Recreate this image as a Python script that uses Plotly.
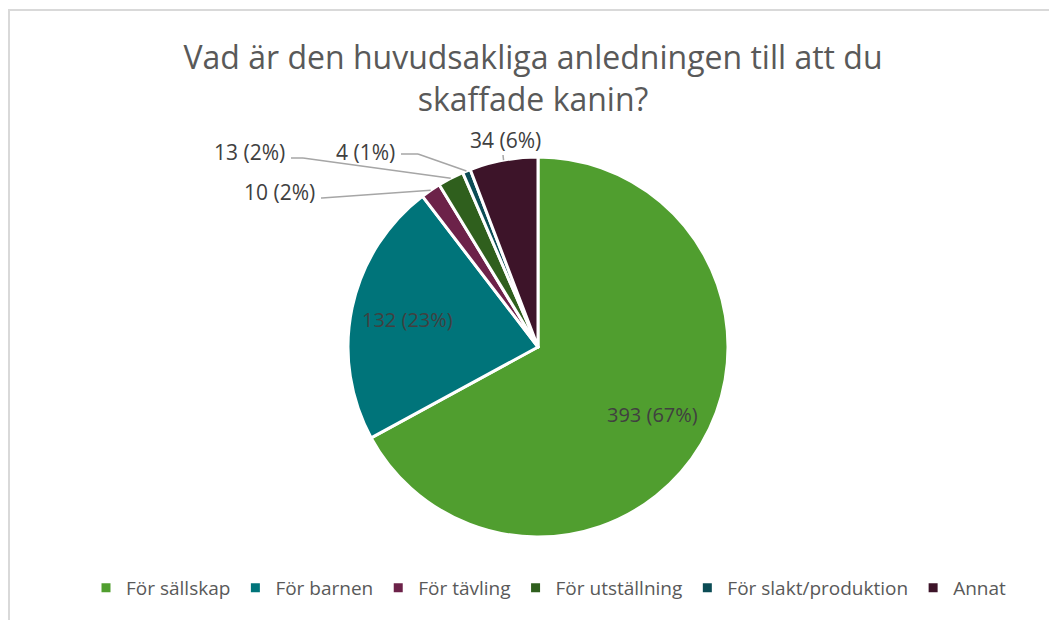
import plotly.express as px
import pandas as pd

anledning = ["För sällskap", "För barnen", "För tävling", "För utställning", "För slakt/produktion", "Annat"]
antal = [393, 132, 10, 13, 4, 34]
farger = ["#509E2F", "#00747A", "#6C2249", "#2F5F1D", "#0B4C55", "#3D1429"]

B, H = 1049, 612  # figure size in px (the page adds 8 px margin)
CX, CY, R = 530, 339, 190  # pie centre and radius in px

# label anchor points (px) for the small slices, with elbow of the leader line
small_labels = {
    "För tävling": dict(text_xy=(309, 184), elbow=(314, 190)),
    "För utställning": dict(text_xy=(279, 144), elbow=(295, 150)),
    "För slakt/produktion": dict(text_xy=(389, 144), elbow=(410, 146)),
    "Annat": dict(text_xy=(497, 132), elbow=(495, 147)),
}


def px_to_paper(x, y):
    return x / B, 1 - y / H


#plot the pie chart for the reason of getting a rabbit
def plot_pie():
    import math
    df = pd.DataFrame({"anledning": anledning, "antal": antal})
    total = df["antal"].sum()
    fig = px.pie(df, names="anledning", values="antal",
                 color="anledning",
                 color_discrete_sequence=farger,
                 category_orders={"anledning": anledning},
                 title="Vad är den huvudsakliga anledningen till att du<br>skaffade kanin?")
    fig.update_traces(sort=False, direction="clockwise", rotation=0,
                      textinfo="none",
                      marker=dict(line=dict(color="white", width=3)),
                      domain=dict(x=[(CX - R) / B, (CX + R) / B], y=[1 - (CY + R) / H, 1 - (CY - R) / H]),
                      hoverinfo="skip", hovertemplate=None)

    # data labels: inside for the big slices, leader lines for the small ones
    start = 0
    for a, v in zip(anledning, antal):
        mid = (start + v / 2) / total * 2 * math.pi
        start += v
        text = f"{v} ({round(100 * v / total)}%)"
        if a not in small_labels:
            t = px_to_paper(CX + 0.7 * R * math.sin(mid), CY - 0.7 * R * math.cos(mid))
            fig.add_annotation(x=t[0], y=t[1], xref="paper", yref="paper", text=text, showarrow=False,
                               xanchor="center", yanchor="middle", font=dict(size=20, color="#404040"))
            continue
        ex, ey = CX + R * math.sin(mid), CY - R * math.cos(mid)
        lab = small_labels[a]
        p0 = px_to_paper(*lab["elbow"])
        p1 = px_to_paper(ex, ey)
        if a != "Annat":
            tx = lab["text_xy"][0] + 4
            fig.add_shape(type="line", xref="paper", yref="paper",
                          x0=px_to_paper(tx, 0)[0], y0=p0[1], x1=p0[0], y1=p0[1],
                          line=dict(color="#a6a6a6", width=1.5))
        fig.add_shape(type="line", xref="paper", yref="paper",
                      x0=p0[0], y0=p0[1], x1=p1[0], y1=p1[1],
                      line=dict(color="#a6a6a6", width=1.5))
        t = px_to_paper(*lab["text_xy"])
        fig.add_annotation(x=t[0], y=t[1], xref="paper", yref="paper", text=text, showarrow=False,
                           xanchor="center" if a == "Annat" else "right", yanchor="middle",
                           font=dict(size=21, color="#404040"))

    fig.add_shape(type="rect", xref="paper", yref="paper",
                  x0=1 / B, y0=-0.1, x1=1.1, y1=1 - 2 / H,
                  line=dict(color="#d9d9d9", width=2), fillcolor="rgba(0,0,0,0)")
    fig.update_layout(width=B, height=H, margin=dict(l=0, r=0, t=0, b=0),
                      paper_bgcolor="white", plot_bgcolor="white",
                      font=dict(family="Open Sans", color="#595959"),
                      title=dict(x=525 / B, xanchor="center", y=1 - 61 / H, yanchor="middle",
                                 font=dict(size=32, color="#595959")),
                      legend=dict(orientation="h", x=541 / B, xanchor="center", y=1 - 580 / H, yanchor="middle",
                                  font=dict(size=19, color="#595959"), itemwidth=30,
                                  traceorder="normal"))
    return fig


fig = plot_pie()
fig.write_html("out.html")
